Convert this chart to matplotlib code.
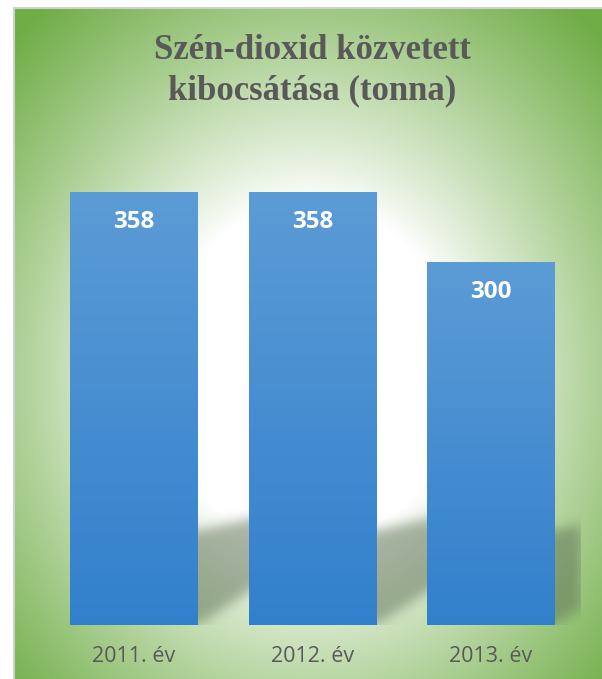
import numpy as np
import matplotlib
matplotlib.use("Agg")
import matplotlib.pyplot as plt
from matplotlib.path import Path
from matplotlib.patches import Rectangle

years = ["2011. év", "2012. év", "2013. év"]
emissions = [358, 358, 300]
title = "Szén-dioxid közvetett\nkibocsátása (tonna)"

W, H = 602, 679
fig = plt.figure(figsize=(W / 100, H / 100), dpi=100)
fig.patch.set_facecolor("white")

# --- background: radial gradient white -> green ---
bx0, by_top = 15, 9
bg = fig.add_axes([bx0 / W, 0, 1 - bx0 / W, 1 - by_top / H])
bg.set_axis_off()
gw, gh = W - bx0, H - by_top
yy, xx = np.mgrid[0:gh, 0:gw]
dx = (xx - gw / 2) / (gw / 2)
dy = (yy - gh / 2 - 30) / (gh / 2)
r = np.sqrt(dx ** 2 + dy ** 2) / np.sqrt(2)
f = np.clip((r - 0.36) / 0.64, 0, 1) ** 0.9
white = np.array([1.0, 1.0, 1.0])
green = np.array([112, 173, 71]) / 255
img = white[None, None, :] * (1 - f[..., None]) + green[None, None, :] * f[..., None]
bg.imshow(img, aspect="auto", extent=[0, 1, 0, 1], origin="upper")
bg.set_xlim(0, 1)
bg.set_ylim(0, 1)

# frame lines
fig.patches.append(Rectangle((14 / W, -0.01), 1.02, 1 - 8 / H + 0.01, transform=fig.transFigure,
                             fill=False, edgecolor="#d0d0d0", linewidth=1.5))

# --- bar axes ---
base_px, top_px = 625, 141
ax = fig.add_axes([44.75 / W, (H - base_px) / H, 535.5 / W, (base_px - top_px) / H])
ax.patch.set_alpha(0)
ax.set_xlim(-0.5, 2.5)
ax.set_ylim(0, 400)
for s in ax.spines.values():
    s.set_visible(False)
ax.set_yticks([])

x = np.arange(len(years))
bw = 0.717

# shadows (blurred polygons behind the bars)
nx, ny = 536, 484
gx = np.linspace(-0.5, 2.5, nx)
gy = np.linspace(0, 400, ny)
GX, GY = np.meshgrid(gx, gy)
pts = np.column_stack([GX.ravel(), GY.ravel()])
mask = np.zeros(GX.shape)
for xi, v in zip(x, emissions):
    x0, x1 = xi - bw / 2, xi + bw / 2
    poly = Path([(x0 + 0.15, 0), (x1, 0), (x1 + 0.5, 48), (x1 + 0.5, 95), (x1, 78), (x0 + 0.15, 78)])
    mask = np.maximum(mask, poly.contains_points(pts).reshape(GX.shape).astype(float))

def blur(a, sigma):
    k = np.arange(-3 * sigma, 3 * sigma + 1)
    k = np.exp(-k ** 2 / (2 * sigma ** 2))
    k /= k.sum()
    a = np.apply_along_axis(lambda m: np.convolve(m, k, mode="same"), 0, a)
    a = np.apply_along_axis(lambda m: np.convolve(m, k, mode="same"), 1, a)
    return a

mask = blur(mask, 6)
shadow = np.zeros(GX.shape + (4,))
shadow[..., 0] = 0.35
shadow[..., 1] = 0.42
shadow[..., 2] = 0.32
shadow[..., 3] = mask * 0.5
ax.imshow(shadow, extent=[-0.5, 2.5, 0, 400], origin="lower", aspect="auto", zorder=1)

bars = ax.bar(x, emissions, width=bw, color="none", edgecolor="none", zorder=2)
grad = np.linspace(0, 1, 256)[:, None]
top_c = np.array([92, 156, 214]) / 255
bot_c = np.array([50, 128, 204]) / 255
bar_img = top_c[None, None, :] * (1 - grad[..., None]) + bot_c[None, None, :] * grad[..., None]
bar_img = np.repeat(bar_img, 2, axis=1)
for b in bars:
    im = ax.imshow(bar_img, extent=[b.get_x(), b.get_x() + b.get_width(), 0, b.get_height()],
                   origin="upper", aspect="auto", zorder=2)
    im.set_clip_path(b)
    ax.text(b.get_x() + b.get_width() / 2, b.get_height() - 25, str(int(b.get_height())),
            ha="center", va="center", color="white", fontsize=17.5, fontweight="bold",
            family="Open Sans", zorder=3)

ax.set_xlim(-0.5, 2.5)
ax.set_ylim(0, 400)
ax.set_xticks(x)
ax.set_xticklabels(years, fontsize=15.5, color="#595959", family="Open Sans")
ax.tick_params(axis="x", length=0, pad=15)

fig.text(312 / W, 1 - 71 / H, title, ha="center", va="center", fontsize=25,
         fontweight="bold", color="#595959", family="Liberation Serif", linespacing=1.3)

fig.savefig("out.png", dpi=100)
